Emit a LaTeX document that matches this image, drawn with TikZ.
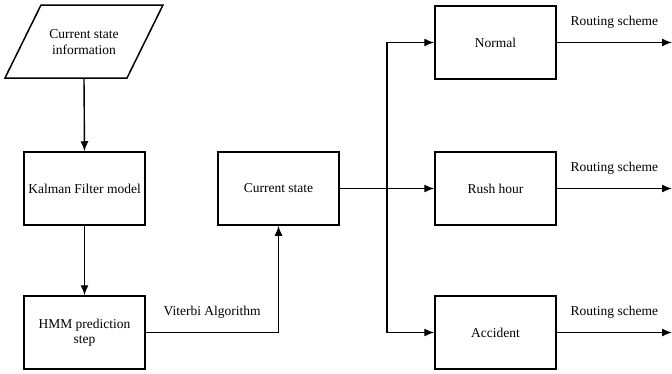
\documentclass[tikz,border=0pt]{standalone}
\usepackage{fontspec}
\setmainfont{Liberation Serif}
\usetikzlibrary{arrows.meta,shapes.geometric}
\begin{document}
\begin{tikzpicture}[x=1pt,y=-1pt,
  box/.style={draw,line width=1.5pt,minimum width=121pt,minimum height=73pt,align=center,inner sep=0pt,font=\fontsize{13.5}{15.5}\selectfont},
  lbl/.style={font=\fontsize{13.5}{15.5}\selectfont,inner sep=0pt},
  conn/.style={line width=1.4pt,-{Latex[length=10pt,width=8pt]}},
  plain/.style={line width=1.4pt}]
\useasboundingbox (0,0) rectangle (672,373);
\coordinate (p1) at (41,5);
\coordinate (p2) at (163,5);
\coordinate (p3) at (127,78);
\coordinate (p4) at (5,78);
\draw[line width=1.5pt] (p1) -- (p2) -- (p3) -- (p4) -- cycle;
\node[lbl,align=center] (info) at (84,42) {Current state\\information};
\coordinate (infob) at (84,78);
\node[box] (kal) at (84.5,188.5) {Kalman Filter model};
\node[box] (hmm) at (84.5,332.5) {HMM prediction\\step};
\node[box] (cur) at (278.5,188.5) {Current state};
\node[box] (nor) at (495.5,42.5) {Normal};
\node[box] (rush) at (495.5,188.5) {Rush hour};
\node[box] (acc) at (495.5,332.5) {Accident};
\draw[conn] (infob) -- (kal.north);
\draw[conn] (kal) -- (hmm);
\draw[conn] (hmm.east) -| node[lbl,pos=0.25,above=13pt]{Viterbi Algorithm} (cur.south);
\draw[conn] (cur) -- (rush);
\coordinate (split) at (387,188.5);
\draw[conn] (split) |- (nor.west);
\draw[conn] (split) |- (acc.west);
\coordinate (e1) at (672,42.5);
\coordinate (e2) at (672,188.5);
\coordinate (e3) at (672,332.5);
\draw[conn] (nor) -- node[lbl,above=13pt]{Routing scheme} (e1);
\draw[conn] (rush) -- node[lbl,above=13pt]{Routing scheme} (e2);
\draw[conn] (acc) -- node[lbl,above=13pt]{Routing scheme} (e3);
\end{tikzpicture}
\end{document}
